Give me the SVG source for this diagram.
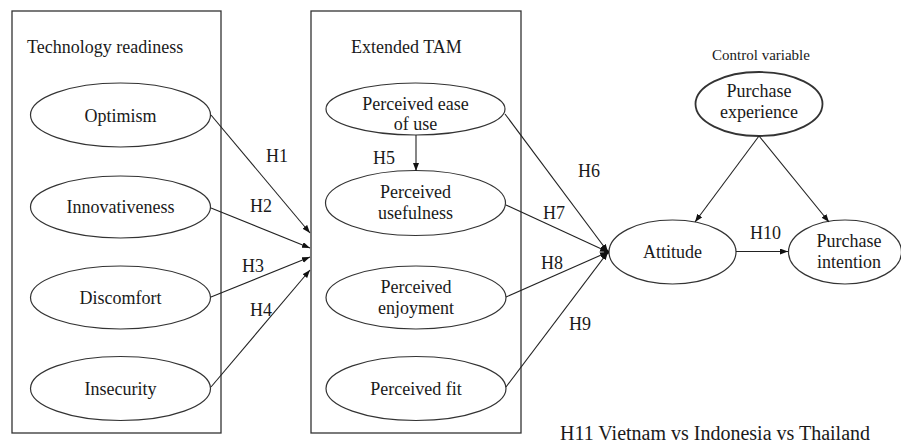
<svg xmlns="http://www.w3.org/2000/svg" width="901" height="447" viewBox="0 0 901 447">
<style>
text{font-family:"Liberation Serif","Times New Roman",serif;fill:#1a1a1a;font-size:18px}
.m{text-anchor:middle}
.box{fill:none;stroke:#333;stroke-width:1.3}
.el{fill:#fff;stroke:#333;stroke-width:1.2}
.ln{fill:none;stroke:#222;stroke-width:1.1;marker-end:url(#ah)}
.sm{font-size:15px}
.big{font-size:20px}
</style>
<defs>
<marker id="ah" markerUnits="userSpaceOnUse" markerWidth="9" markerHeight="7" refX="8" refY="3" orient="auto">
<path d="M0,0 L8,3 L0,6 z" fill="#111"/>
</marker>
</defs>
<rect width="901" height="447" fill="#fff"/>
<g id="tr-box">
<rect class="box" x="12" y="11" width="209" height="422"/>
<text x="27" y="53">Technology readiness</text>
</g>
<g id="tam-box">
<rect class="box" x="311" y="11" width="210" height="422"/>
<text x="351" y="53">Extended TAM</text>
</g>
<g id="optimism"><ellipse class="el" cx="120.5" cy="115" rx="90" ry="32"/><text class="m" x="120.5" y="122">Optimism</text></g>
<g id="innovativeness"><ellipse class="el" cx="120.5" cy="207" rx="90" ry="31"/><text class="m" x="120.5" y="213">Innovativeness</text></g>
<g id="discomfort"><ellipse class="el" cx="120.5" cy="297.5" rx="90" ry="31.5"/><text class="m" x="120.5" y="303.5">Discomfort</text></g>
<g id="insecurity"><ellipse class="el" cx="120.5" cy="388.5" rx="90" ry="32"/><text class="m" x="120.5" y="395">Insecurity</text></g>
<g id="peou"><ellipse class="el" cx="415.5" cy="109" rx="89.5" ry="26"/><text class="m" x="415.5" y="110">Perceived ease</text><text class="m" x="415.5" y="130">of use</text></g>
<g id="pu"><ellipse class="el" cx="415.5" cy="203" rx="90" ry="32.5"/><text class="m" x="415.5" y="198">Perceived</text><text class="m" x="415.5" y="219">usefulness</text></g>
<g id="pe"><ellipse class="el" cx="416" cy="297.5" rx="90" ry="31.5"/><text class="m" x="416" y="293">Perceived</text><text class="m" x="416" y="314">enjoyment</text></g>
<g id="pf"><ellipse class="el" cx="416" cy="388.5" rx="90" ry="32"/><text class="m" x="416" y="395">Perceived fit</text></g>
<g id="attitude"><ellipse class="el" cx="672.5" cy="252" rx="63.5" ry="32"/><text class="m" x="672.5" y="258">Attitude</text></g>
<g id="pi"><ellipse class="el" cx="845" cy="252" rx="56.5" ry="32"/><text class="m" x="849" y="247">Purchase</text><text class="m" x="849" y="268">intention</text></g>
<g id="pexp"><text class="m sm" x="761" y="60">Control variable</text><ellipse class="el" style="stroke-width:1.8" cx="759" cy="104" rx="63.5" ry="32"/><text class="m" x="759" y="97">Purchase</text><text class="m" x="759" y="118">experience</text></g>
<g id="connectors">
<line class="ln" x1="211" y1="115" x2="310" y2="233"/>
<line class="ln" x1="211" y1="208" x2="310" y2="248"/>
<line class="ln" x1="211" y1="297" x2="310" y2="257"/>
<line class="ln" x1="211" y1="387" x2="310" y2="270"/>
<line class="ln" x1="416" y1="135" x2="416" y2="171"/>
<line class="ln" x1="505" y1="114" x2="608" y2="252"/>
<line class="ln" x1="506" y1="205" x2="608" y2="252"/>
<line class="ln" x1="506" y1="297" x2="608" y2="252"/>
<line class="ln" x1="506" y1="387" x2="608" y2="252"/>
<line class="ln" x1="736" y1="251.5" x2="788" y2="251.5"/>
<line class="ln" x1="759" y1="136" x2="695" y2="222"/>
<line class="ln" x1="759" y1="136" x2="829" y2="222"/>
<circle cx="606.5" cy="252" r="2.5" fill="#111"/>
</g>
<g id="labels">
<text x="266" y="162">H1</text>
<text x="250" y="212">H2</text>
<text x="242" y="272">H3</text>
<text x="250" y="316">H4</text>
<text x="373" y="164">H5</text>
<text x="578" y="177">H6</text>
<text x="543" y="219">H7</text>
<text x="541" y="269">H8</text>
<text x="569" y="330">H9</text>
<text x="750" y="239">H10</text>
<text class="big" x="560" y="440">H11 Vietnam vs Indonesia vs Thailand</text>
</g>
</svg>
